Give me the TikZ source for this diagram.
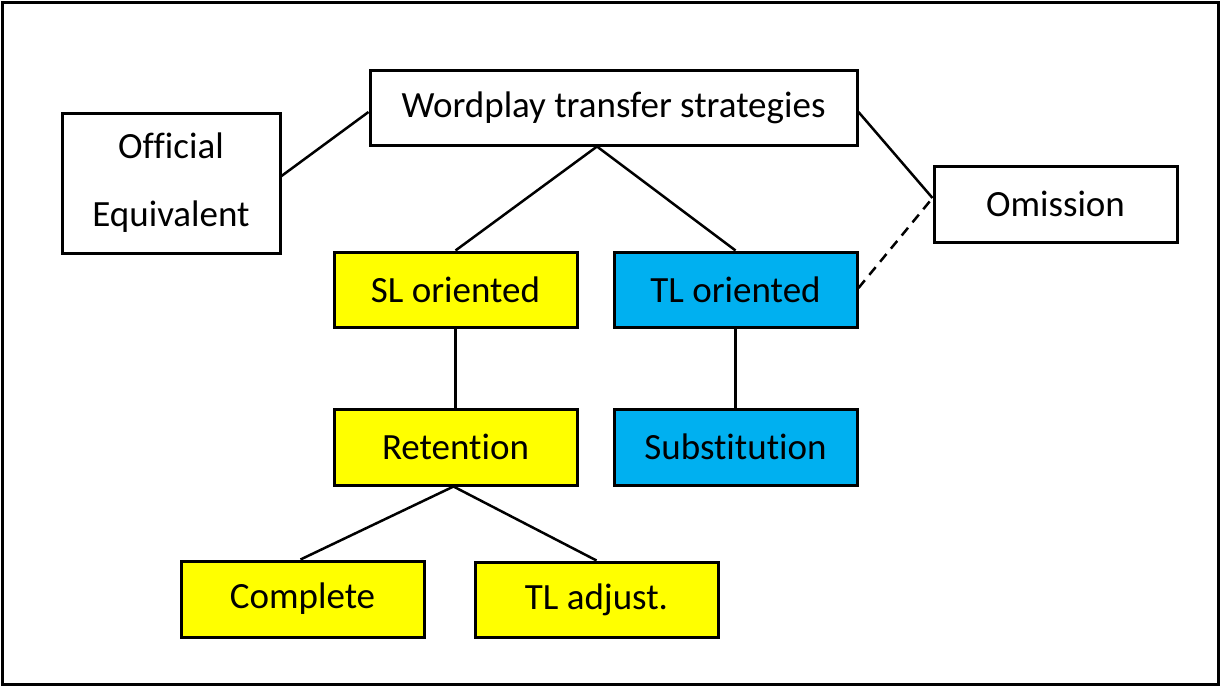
\documentclass[tikz,border=0pt]{standalone}
\usepackage{fontspec}
\setmainfont[RawFeature=-liga]{Carlito}
\definecolor{slyellow}{HTML}{FFFF00}
\definecolor{tlblue}{HTML}{00B0F0}
\begin{document}
\begin{tikzpicture}[x=1pt,y=-1pt,
  box/.style={draw=black, line width=3pt, rectangle, inner sep=0pt, fill=white,
    font=\fontsize{37}{44}\selectfont, minimum width=243pt, minimum height=75pt},
  link/.style={line width=2.5pt, draw=black}]
\useasboundingbox (0,0) rectangle (1220,686);
\draw[line width=3pt] (2,2) rectangle (1218,684);
\node[box, minimum width=487pt] (wp) at (613.5,107.5) {Wordplay transfer strategies};
\node[box, minimum width=218pt, minimum height=140pt, align=center,
  font=\fontsize{37}{68}\selectfont] (off) at (171,183) {Official\\Equivalent};
\node[box, minimum height=76pt] (om) at (1055.5,204) {Omission};
\node[box, fill=slyellow] (sl) at (455.5,289.5) {SL oriented};
\node[box, fill=tlblue] (tl) at (735.5,289.5) {TL oriented};
\node[box, fill=slyellow, minimum height=76pt] (ret) at (455.5,447) {Retention};
\node[box, fill=tlblue, minimum height=76pt] (sub) at (735.5,447) {Substitution};
\node[box, fill=slyellow, minimum height=76pt] (comp) at (302.5,599) {Complete};
\node[box, fill=slyellow] (adj) at (596.5,599.5) {TL adjust.};
\draw[link] ([yshift=7pt]off.east) -- ([yshift=-4.5pt]wp.west);
\draw[link] ([yshift=-4.5pt]wp.east) -- ([yshift=6pt]om.west);
\draw[link, dashed, dash pattern=on 10pt off 7pt] ([yshift=1.5pt]tl.east) -- ([yshift=6pt]om.west);
\draw[link] ([xshift=-16.5pt]wp.south) -- (sl.north);
\draw[link] ([xshift=-16.5pt]wp.south) -- (tl.north);
\draw[link] (sl.south) -- (ret.north);
\draw[link] (tl.south) -- (sub.north);
\draw[link] ([xshift=-2pt]ret.south) -- ([xshift=-2pt]comp.north);
\draw[link] ([xshift=-2pt]ret.south) -- (adj.north);
\end{tikzpicture}
\end{document}
